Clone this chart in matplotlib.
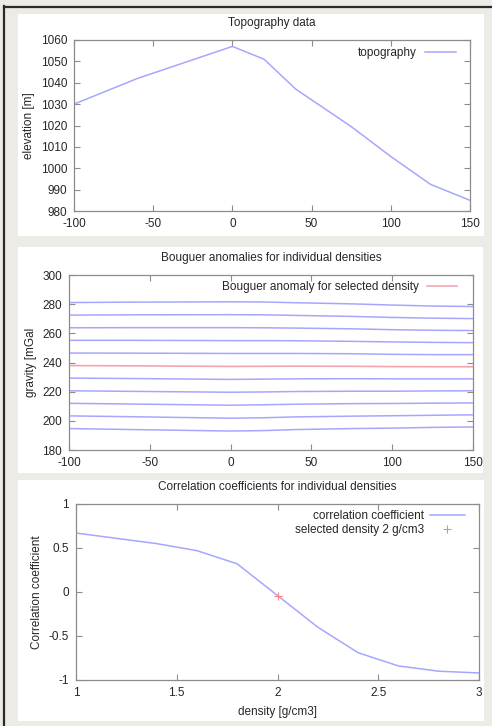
import matplotlib
matplotlib.use("Agg")
import matplotlib.pyplot as plt
from matplotlib.lines import Line2D
from matplotlib.patches import Rectangle
from matplotlib.ticker import FuncFormatter, MultipleLocator

plt.rcParams['font.family'] = ['Liberation Sans', 'DejaVu Sans']
plt.rcParams['font.size'] = 8.5

# ---- data -------------------------------------------------------------
profile_x = [-100, -60, 0, 20, 40, 75, 100, 125, 150]
elevation = [1030, 1042, 1057, 1051, 1037, 1019.5, 1005.5, 992.5, 985]

densities = [1.0, 1.2, 1.4, 1.6, 1.8, 2.0, 2.2, 2.4, 2.6, 2.8, 3.0]
selected_density = 2.0

# Bouguer anomaly [mGal] along the profile, one row per density
bouguer = [
    [281.1, 281.4, 281.6, 281.5, 281.0, 280.2, 279.4, 278.7, 278.4],
    [272.5, 272.7, 272.8, 272.7, 272.3, 271.6, 270.9, 270.4, 270.1],
    [263.8, 263.9, 263.9, 263.8, 263.6, 263.1, 262.5, 262.1, 261.9],
    [255.2, 255.2, 255.0, 255.0, 254.9, 254.5, 254.1, 253.8, 253.6],
    [246.5, 246.4, 246.2, 246.2, 246.2, 246.0, 245.6, 245.4, 245.4],
    [237.9, 237.7, 237.3, 237.4, 237.5, 237.4, 237.2, 237.1, 237.1],
    [229.3, 229.0, 228.4, 228.6, 228.8, 228.9, 228.8, 228.8, 228.8],
    [220.6, 220.2, 219.6, 219.8, 220.1, 220.3, 220.3, 220.5, 220.6],
    [212.0, 211.5, 210.7, 211.0, 211.4, 211.8, 211.9, 212.1, 212.3],
    [203.4, 202.8, 201.8, 202.1, 202.7, 203.2, 203.5, 203.8, 204.1],
    [194.7, 194.0, 193.0, 193.3, 194.0, 194.7, 195.0, 195.5, 195.8],
]

correlation = [0.67, 0.61, 0.55, 0.47, 0.32, -0.04, -0.40, -0.69, -0.84, -0.90, -0.92]
selected_correlation = -0.04

# ---- figure -----------------------------------------------------------
W, H = 492, 726
BG = '#ecebe5'
BLUE = '#a6a6ff'
RED = '#f4a4b0'
FRAME = '#8c8c8c'
TXT = '#262626'

fig = plt.figure(figsize=(W / 100, H / 100), dpi=100, facecolor=BG)


def fig_box(l, t, r, b):
    return [l / W, 1 - b / H, (r - l) / W, (b - t) / H]


# window frame (top and left edges)
fig.add_artist(Line2D([3.5 / W, 3.5 / W], [0, 1 - 6 / H], color='#2a2a2a', lw=1.6,
                      transform=fig.transFigure))
fig.add_artist(Line2D([3.5 / W, 1], [1 - 6.5 / H, 1 - 6.5 / H], color='#2a2a2a', lw=1.6,
                      transform=fig.transFigure))

# white panels behind each plot
for (l, t, r, b) in [(18, 14, 484, 236), (18, 247, 483, 473), (18, 480, 484, 721)]:
    x0, y0, w, h = fig_box(l, t, r, b)
    fig.add_artist(Rectangle((x0, y0), w, h, transform=fig.transFigure,
                             facecolor='white', edgecolor='none', zorder=0))

fmt = FuncFormatter(lambda v, p: ('%g' % v))


def style(ax):
    for s in ax.spines.values():
        s.set_color(FRAME)
        s.set_linewidth(0.9)
    ax.tick_params(direction='in', length=4, width=0.8, color=FRAME,
                   top=True, right=True, labelsize=8.5, labelcolor=TXT, pad=5)
    ax.xaxis.set_major_formatter(fmt)
    ax.yaxis.set_major_formatter(fmt)
    ax.set_facecolor('white')


def key(ax, anchor_x, anchor_y, handlelength, textpad=0.7):
    ax.legend(loc='upper right', bbox_to_anchor=(anchor_x, anchor_y), borderaxespad=0,
              frameon=False, markerfirst=False, handlelength=handlelength,
              handletextpad=textpad, labelspacing=0.15, fontsize=8.5, labelcolor=TXT)


# ---- topography ---------------------------------------------------------
ax1 = fig.add_axes(fig_box(74, 40, 470, 211))
ax1.plot(profile_x, elevation, color=BLUE, lw=1.1, label='topography')
ax1.set_xlim(-100, 150)
ax1.set_ylim(980, 1060)
ax1.xaxis.set_major_locator(MultipleLocator(50))
ax1.yaxis.set_major_locator(MultipleLocator(10))
ax1.set_title('Topography data', fontsize=8.5, color=TXT, pad=10)
ax1.set_ylabel('elevation [m]', color=TXT, labelpad=4)
style(ax1)
key(ax1, 0.976, 0.986, 2.6)

# ---- Bouguer anomalies ------------------------------------------------
ax2 = fig.add_axes(fig_box(69, 275, 473, 450))
sel_row = None
for rho, row in zip(densities, bouguer):
    if abs(rho - selected_density) < 1e-9:
        sel_row = row
        continue
    ax2.plot(profile_x, row, color=BLUE, lw=1.1)
ax2.plot(profile_x, sel_row, color=RED, lw=1.2,
         label='Bouguer anomaly for selected density')
ax2.set_xlim(-100, 150)
ax2.set_ylim(180, 300)
ax2.xaxis.set_major_locator(MultipleLocator(50))
ax2.yaxis.set_major_locator(MultipleLocator(20))
ax2.set_title('Bouguer anomalies for individual densities', fontsize=8.5, color=TXT, pad=10)
ax2.set_ylabel('gravity [mGal', color=TXT, labelpad=4)
style(ax2)
key(ax2, 0.972, 0.991, 2.5)

# ---- correlation ------------------------------------------------------
ax3 = fig.add_axes(fig_box(76, 504, 479, 680))
ax3.plot(densities, correlation, color=BLUE, lw=1.1, label='correlation coefficient')
ax3.plot([selected_density], [selected_correlation], linestyle='none', marker='+',
         markersize=5.5, markeredgewidth=0.8, color='#ff8080',
         label='selected density %g g/cm3' % selected_density)
ax3.set_xlim(1, 3)
ax3.set_ylim(-1, 1)
ax3.xaxis.set_major_locator(MultipleLocator(0.5))
ax3.yaxis.set_major_locator(MultipleLocator(0.5))
ax3.set_title('Correlation coefficients for individual densities', fontsize=8.5,
              color=TXT, pad=10)
ax3.set_ylabel('Correlation coefficient', color=TXT, labelpad=4)
ax3.set_xlabel('density [g/cm3]', color=TXT, labelpad=5)
style(ax3)
key(ax3, 0.977, 0.991, 3.0, textpad=0.5)

fig.savefig('out.png', dpi=100, facecolor=BG)
